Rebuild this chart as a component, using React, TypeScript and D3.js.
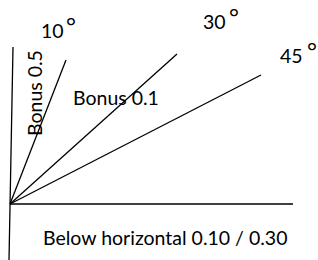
import React, { useEffect, useRef } from "react";
import * as d3 from "d3";

// rays drawn from the origin, in plot units (x right, y up)
const rayLabels = ["10", "30", "45"];
const rayEndX = [56, 167, 251];
const rayEndY = [144, 150, 129];

// where each angle label sits (plot units)
const labelX = [31, 193, 270];
const labelY = [166, 175, 141];

// vertical axis ends (slightly tilted in the sketch)
const axisTop = { x: 3, y: 157 };
const axisBottom = { x: -1, y: -56 };
const horizontalEnd = 283;

const bonusLabels = ["Bonus 0.5", "Bonus 0.1"];
const belowLabel = "Below horizontal 0.10 / 0.30";

const W = 318;
const H = 260;
const FONT = "Lato, 'Open Sans', sans-serif";
const FS = 19.5;

export default function App() {
  const svgRef = useRef<SVGSVGElement>(null);

  useEffect(() => {
    const svg = d3.select(svgRef.current);
    svg.selectAll("*").remove();

    const x = d3.scaleLinear().domain([0, 283]).range([10, 293]);
    const y = d3.scaleLinear().domain([0, 204]).range([204, 0]);

    svg.append("rect").attr("width", W).attr("height", H).attr("fill", "#fff");

    const g = svg.append("g").attr("stroke", "#000").attr("stroke-width", 1.3);

    // axes
    g.append("line")
      .attr("x1", x(axisTop.x))
      .attr("y1", y(axisTop.y))
      .attr("x2", x(axisBottom.x))
      .attr("y2", y(axisBottom.y));
    g.append("line")
      .attr("x1", x(0))
      .attr("y1", y(0))
      .attr("x2", x(horizontalEnd))
      .attr("y2", y(0));

    // rays
    g.selectAll(".ray")
      .data(rayLabels)
      .enter()
      .append("line")
      .attr("class", "ray")
      .attr("x1", x(0))
      .attr("y1", y(0))
      .attr("x2", (_, i) => x(rayEndX[i]))
      .attr("y2", (_, i) => y(rayEndY[i]));

    const t = svg.append("g").attr("font-family", FONT).attr("fill", "#000");

    // angle labels
    t.selectAll(".ang")
      .data(rayLabels)
      .enter()
      .append("text")
      .attr("class", "ang")
      .attr("x", (_, i) => x(labelX[i]))
      .attr("y", (_, i) => y(labelY[i]))
      .attr("font-size", FS)
      .text((d) => d);

    // degree marks, raised like superscripts
    t.selectAll(".deg")
      .data(rayLabels)
      .enter()
      .append("text")
      .attr("class", "deg")
      .attr("text-anchor", "middle")
      .attr("x", (_, i) => x(labelX[i]) + 30 + i)
      .attr("y", (_, i) => y(labelY[i]) - 3)
      .attr("font-size", 24)
      .text("°");

    // bonus labels
    t.append("text")
      .attr("transform", `translate(${x(32)},${y(68)}) rotate(-90)`)
      .attr("font-size", FS)
      .text(bonusLabels[0]);
    t.append("text")
      .attr("x", x(63))
      .attr("y", y(99))
      .attr("font-size", FS)
      .text(bonusLabels[1]);

    t.append("text")
      .attr("x", x(33))
      .attr("y", y(-41))
      .attr("font-size", FS)
      .text(belowLabel);
  }, []);

  return (
    <svg
      ref={svgRef}
      width={W}
      height={H}
      style={{ position: "absolute", left: 0, top: 0 }}
    />
  );
}
